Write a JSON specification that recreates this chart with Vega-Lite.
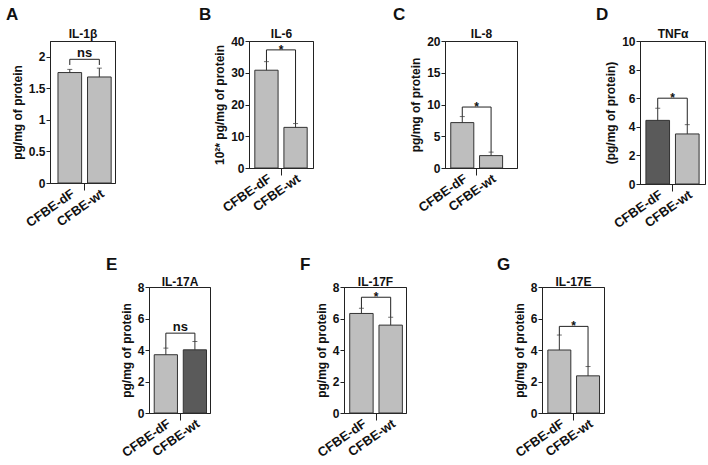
{
  "$schema": "https://vega.github.io/schema/vega-lite/v6.json",
  "background": "white",
  "padding": {"left": 5, "top": 5, "right": 2, "bottom": 2},
  "datasets": {
    "bars": [
      {"panel": "A", "group": "CFBE-dF", "mean": 1.75, "upper": 1.80},
      {"panel": "A", "group": "CFBE-wt", "mean": 1.68, "upper": 1.82},
      {"panel": "B", "group": "CFBE-dF", "mean": 30.8, "upper": 33.5},
      {"panel": "B", "group": "CFBE-wt", "mean": 12.8, "upper": 14.0},
      {"panel": "C", "group": "CFBE-dF", "mean": 7.15, "upper": 8.1},
      {"panel": "C", "group": "CFBE-wt", "mean": 1.95, "upper": 2.5},
      {"panel": "D", "group": "CFBE-dF", "mean": 4.45, "upper": 5.3},
      {"panel": "D", "group": "CFBE-wt", "mean": 3.5, "upper": 4.15},
      {"panel": "E", "group": "CFBE-dF", "mean": 3.7, "upper": 4.12},
      {"panel": "E", "group": "CFBE-wt", "mean": 4.01, "upper": 4.54},
      {"panel": "F", "group": "CFBE-dF", "mean": 6.32, "upper": 6.65},
      {"panel": "F", "group": "CFBE-wt", "mean": 5.58, "upper": 6.08},
      {"panel": "G", "group": "CFBE-dF", "mean": 4.0, "upper": 4.95},
      {"panel": "G", "group": "CFBE-wt", "mean": 2.36, "upper": 2.95}
    ],
    "brackets": [
      {"panel": "A", "group": "CFBE-dF", "step": 1, "y": 1.87},
      {"panel": "A", "group": "CFBE-dF", "step": 2, "y": 1.96},
      {"panel": "A", "group": "CFBE-wt", "step": 3, "y": 1.96},
      {"panel": "A", "group": "CFBE-wt", "step": 4, "y": 1.87},
      {"panel": "B", "group": "CFBE-dF", "step": 1, "y": 33.5},
      {"panel": "B", "group": "CFBE-dF", "step": 2, "y": 37.2},
      {"panel": "B", "group": "CFBE-wt", "step": 3, "y": 37.2},
      {"panel": "B", "group": "CFBE-wt", "step": 4, "y": 14.0},
      {"panel": "C", "group": "CFBE-dF", "step": 1, "y": 8.1},
      {"panel": "C", "group": "CFBE-dF", "step": 2, "y": 9.6},
      {"panel": "C", "group": "CFBE-wt", "step": 3, "y": 9.6},
      {"panel": "C", "group": "CFBE-wt", "step": 4, "y": 2.5},
      {"panel": "D", "group": "CFBE-dF", "step": 1, "y": 5.3},
      {"panel": "D", "group": "CFBE-dF", "step": 2, "y": 6.0},
      {"panel": "D", "group": "CFBE-wt", "step": 3, "y": 6.0},
      {"panel": "D", "group": "CFBE-wt", "step": 4, "y": 4.15},
      {"panel": "E", "group": "CFBE-dF", "step": 1, "y": 4.12},
      {"panel": "E", "group": "CFBE-dF", "step": 2, "y": 5.07},
      {"panel": "E", "group": "CFBE-wt", "step": 3, "y": 5.07},
      {"panel": "E", "group": "CFBE-wt", "step": 4, "y": 4.54},
      {"panel": "F", "group": "CFBE-dF", "step": 1, "y": 6.65},
      {"panel": "F", "group": "CFBE-dF", "step": 2, "y": 7.35},
      {"panel": "F", "group": "CFBE-wt", "step": 3, "y": 7.35},
      {"panel": "F", "group": "CFBE-wt", "step": 4, "y": 6.08},
      {"panel": "G", "group": "CFBE-dF", "step": 1, "y": 4.95},
      {"panel": "G", "group": "CFBE-dF", "step": 2, "y": 5.5},
      {"panel": "G", "group": "CFBE-wt", "step": 3, "y": 5.5},
      {"panel": "G", "group": "CFBE-wt", "step": 4, "y": 2.95}
    ],
    "marks": [
      {"panel": "A", "label": "ns", "y": 1.96},
      {"panel": "B", "label": "*", "y": 37.2},
      {"panel": "C", "label": "*", "y": 9.6},
      {"panel": "D", "label": "*", "y": 6.0},
      {"panel": "E", "label": "ns", "y": 5.07},
      {"panel": "F", "label": "*", "y": 7.35},
      {"panel": "G", "label": "*", "y": 5.5}
    ]
  },
  "columns": 7,
  "spacing": {"row": 103, "column": 24},
  "bounds": "flush",
  "concat": [
    {
      "width": 65, "height": 142,
      "title": {"text": "A", "dx": -44, "offset": 3},
      "resolve": {"axis": {"x": "independent"}},
      "layer": [
        {
          "data": {"name": "bars"}, "transform": [{"filter": "datum.panel === 'A'"}],
          "mark": {"type": "bar", "stroke": "#333", "strokeWidth": 1, "width": {"band": 0.8}},
          "encoding": {
            "x": {"field": "group", "type": "nominal", "scale": {"domain": ["CFBE-dF", "CFBE-wt"], "paddingInner": 0, "paddingOuter": 0.1, "align": 0.85}, "axis": {"orient": "bottom", "title": null, "ticks": false, "labelAngle": -35, "labelAlign": "right", "labelBaseline": "top", "labelPadding": 4, "labelFontSize": 13}},
            "y": {"field": "mean", "type": "quantitative", "scale": {"domain": [0, 2.25], "nice": false}, "axis": {"values": [0, 0.5, 1, 1.5, 2], "format": "~g", "title": "pg/mg of protein"}},
            "fill": {"value": "#bebebe"}
          }
        },
        {
          "data": {"name": "bars"}, "transform": [{"filter": "datum.panel === 'A'"}],
          "mark": {"type": "rule", "color": "#333", "strokeWidth": 1},
          "encoding": {
            "x": {"field": "group", "type": "nominal", "scale": {"domain": ["CFBE-dF", "CFBE-wt"]}, "axis": {"orient": "top", "title": "IL-1β", "labels": false, "ticks": false, "titlePadding": 4}},
            "y": {"field": "mean", "type": "quantitative", "scale": {"domain": [0, 2.25], "nice": false}, "axis": {"values": [0, 0.5, 1, 1.5, 2], "format": "~g", "title": "pg/mg of protein"}},
            "y2": {"field": "upper"}
          }
        },
        {
          "data": {"name": "bars"}, "transform": [{"filter": "datum.panel === 'A'"}],
          "mark": {"type": "tick", "orient": "horizontal", "size": 5, "thickness": 1, "color": "#333"},
          "encoding": {
            "x": {"field": "group", "type": "nominal", "scale": {"domain": ["CFBE-dF", "CFBE-wt"]}, "axis": {"orient": "bottom", "values": ["CFBE-wt"], "bandPosition": 0, "labels": false, "domain": false, "title": null, "ticks": true, "tickSize": 7}},
            "y": {"field": "upper", "type": "quantitative", "scale": {"domain": [0, 2.25], "nice": false}, "axis": {"values": [0, 0.5, 1, 1.5, 2], "format": "~g", "title": "pg/mg of protein"}}
          }
        },
        {
          "data": {"name": "brackets"}, "transform": [{"filter": "datum.panel === 'A'"}],
          "mark": {"type": "line", "color": "#222", "strokeWidth": 1},
          "encoding": {
            "x": {"field": "group", "type": "nominal", "scale": {"domain": ["CFBE-dF", "CFBE-wt"]}, "axis": null},
            "y": {"field": "y", "type": "quantitative", "scale": {"domain": [0, 2.25], "nice": false}, "axis": {"values": [0, 0.5, 1, 1.5, 2], "format": "~g", "title": "pg/mg of protein"}},
            "order": {"field": "step"}
          }
        },
        {
          "data": {"name": "marks"}, "transform": [{"filter": "datum.panel === 'A'"}],
          "mark": {"type": "text", "fontSize": 13, "fontWeight": "bold", "baseline": "alphabetic", "dy": -2, "color": "#111"},
          "encoding": {
            "x": {"datum": "CFBE-wt", "type": "nominal", "bandPosition": 0, "scale": {"domain": ["CFBE-dF", "CFBE-wt"]}, "axis": null},
            "y": {"field": "y", "type": "quantitative", "scale": {"domain": [0, 2.25], "nice": false}, "axis": {"values": [0, 0.5, 1, 1.5, 2], "format": "~g", "title": "pg/mg of protein"}},
            "text": {"field": "label"}
          }
        }
      ]
    },
    {"width": 76, "height": 1, "data": {"values": []}, "mark": "point", "view": {"stroke": null}},
    {
      "width": 64, "height": 127,
      "title": {"text": "B", "dx": -50, "offset": 3},
      "resolve": {"axis": {"x": "independent"}},
      "layer": [
        {
          "data": {"name": "bars"}, "transform": [{"filter": "datum.panel === 'B'"}],
          "mark": {"type": "bar", "stroke": "#333", "strokeWidth": 1, "width": {"band": 0.8}},
          "encoding": {
            "x": {"field": "group", "type": "nominal", "scale": {"domain": ["CFBE-dF", "CFBE-wt"], "paddingInner": 0, "paddingOuter": 0.1, "align": 0.5}, "axis": {"orient": "bottom", "title": null, "ticks": false, "labelAngle": -35, "labelAlign": "right", "labelBaseline": "top", "labelPadding": 4, "labelFontSize": 13}},
            "y": {"field": "mean", "type": "quantitative", "scale": {"domain": [0, 40], "nice": false}, "axis": {"values": [0, 10, 20, 30, 40], "title": "10²* pg/mg of protein"}},
            "fill": {"value": "#bebebe"}
          }
        },
        {
          "data": {"name": "bars"}, "transform": [{"filter": "datum.panel === 'B'"}],
          "mark": {"type": "rule", "color": "#333", "strokeWidth": 1},
          "encoding": {
            "x": {"field": "group", "type": "nominal", "scale": {"domain": ["CFBE-dF", "CFBE-wt"]}, "axis": {"orient": "top", "title": "IL-6", "labels": false, "ticks": false, "titlePadding": 4}},
            "y": {"field": "mean", "type": "quantitative", "scale": {"domain": [0, 40], "nice": false}, "axis": {"values": [0, 10, 20, 30, 40], "title": "10²* pg/mg of protein"}},
            "y2": {"field": "upper"}
          }
        },
        {
          "data": {"name": "bars"}, "transform": [{"filter": "datum.panel === 'B'"}],
          "mark": {"type": "tick", "orient": "horizontal", "size": 5, "thickness": 1, "color": "#333"},
          "encoding": {
            "x": {"field": "group", "type": "nominal", "scale": {"domain": ["CFBE-dF", "CFBE-wt"]}, "axis": {"orient": "bottom", "values": ["CFBE-wt"], "bandPosition": 0, "labels": false, "domain": false, "title": null, "ticks": true, "tickSize": 7}},
            "y": {"field": "upper", "type": "quantitative", "scale": {"domain": [0, 40], "nice": false}, "axis": {"values": [0, 10, 20, 30, 40], "title": "10²* pg/mg of protein"}}
          }
        },
        {
          "data": {"name": "brackets"}, "transform": [{"filter": "datum.panel === 'B'"}],
          "mark": {"type": "line", "color": "#222", "strokeWidth": 1},
          "encoding": {
            "x": {"field": "group", "type": "nominal", "scale": {"domain": ["CFBE-dF", "CFBE-wt"]}, "axis": null},
            "y": {"field": "y", "type": "quantitative", "scale": {"domain": [0, 40], "nice": false}, "axis": {"values": [0, 10, 20, 30, 40], "title": "10²* pg/mg of protein"}},
            "order": {"field": "step"}
          }
        },
        {
          "data": {"name": "marks"}, "transform": [{"filter": "datum.panel === 'B'"}],
          "mark": {"type": "text", "fontSize": 12, "fontWeight": "bold", "baseline": "alphabetic", "dy": 4, "color": "#111"},
          "encoding": {
            "x": {"datum": "CFBE-wt", "type": "nominal", "bandPosition": 0, "scale": {"domain": ["CFBE-dF", "CFBE-wt"]}, "axis": null},
            "y": {"field": "y", "type": "quantitative", "scale": {"domain": [0, 40], "nice": false}, "axis": {"values": [0, 10, 20, 30, 40], "title": "10²* pg/mg of protein"}},
            "text": {"field": "label"}
          }
        }
      ]
    },
    {"width": 77, "height": 1, "data": {"values": []}, "mark": "point", "view": {"stroke": null}},
    {
      "width": 72, "height": 127,
      "title": {"text": "C", "dx": -52, "offset": 3},
      "resolve": {"axis": {"x": "independent"}},
      "layer": [
        {
          "data": {"name": "bars"}, "transform": [{"filter": "datum.panel === 'C'"}],
          "mark": {"type": "bar", "stroke": "#333", "strokeWidth": 1, "width": {"band": 0.8}},
          "encoding": {
            "x": {"field": "group", "type": "nominal", "scale": {"domain": ["CFBE-dF", "CFBE-wt"], "paddingInner": 0, "paddingOuter": 0.25, "align": 0.2}, "axis": {"orient": "bottom", "title": null, "ticks": false, "labelAngle": -35, "labelAlign": "right", "labelBaseline": "top", "labelPadding": 4, "labelFontSize": 13}},
            "y": {"field": "mean", "type": "quantitative", "scale": {"domain": [0, 20], "nice": false}, "axis": {"values": [0, 5, 10, 15, 20], "title": "pg/mg of protein"}},
            "fill": {"value": "#bebebe"}
          }
        },
        {
          "data": {"name": "bars"}, "transform": [{"filter": "datum.panel === 'C'"}],
          "mark": {"type": "rule", "color": "#333", "strokeWidth": 1},
          "encoding": {
            "x": {"field": "group", "type": "nominal", "scale": {"domain": ["CFBE-dF", "CFBE-wt"]}, "axis": {"orient": "top", "title": "IL-8", "labels": false, "ticks": false, "titlePadding": 4}},
            "y": {"field": "mean", "type": "quantitative", "scale": {"domain": [0, 20], "nice": false}, "axis": {"values": [0, 5, 10, 15, 20], "title": "pg/mg of protein"}},
            "y2": {"field": "upper"}
          }
        },
        {
          "data": {"name": "bars"}, "transform": [{"filter": "datum.panel === 'C'"}],
          "mark": {"type": "tick", "orient": "horizontal", "size": 5, "thickness": 1, "color": "#333"},
          "encoding": {
            "x": {"field": "group", "type": "nominal", "scale": {"domain": ["CFBE-dF", "CFBE-wt"]}, "axis": {"orient": "bottom", "values": ["CFBE-wt"], "bandPosition": 0, "labels": false, "domain": false, "title": null, "ticks": true, "tickSize": 7}},
            "y": {"field": "upper", "type": "quantitative", "scale": {"domain": [0, 20], "nice": false}, "axis": {"values": [0, 5, 10, 15, 20], "title": "pg/mg of protein"}}
          }
        },
        {
          "data": {"name": "brackets"}, "transform": [{"filter": "datum.panel === 'C'"}],
          "mark": {"type": "line", "color": "#222", "strokeWidth": 1},
          "encoding": {
            "x": {"field": "group", "type": "nominal", "scale": {"domain": ["CFBE-dF", "CFBE-wt"]}, "axis": null},
            "y": {"field": "y", "type": "quantitative", "scale": {"domain": [0, 20], "nice": false}, "axis": {"values": [0, 5, 10, 15, 20], "title": "pg/mg of protein"}},
            "order": {"field": "step"}
          }
        },
        {
          "data": {"name": "marks"}, "transform": [{"filter": "datum.panel === 'C'"}],
          "mark": {"type": "text", "fontSize": 12, "fontWeight": "bold", "baseline": "alphabetic", "dy": 4, "color": "#111"},
          "encoding": {
            "x": {"datum": "CFBE-wt", "type": "nominal", "bandPosition": 0, "scale": {"domain": ["CFBE-dF", "CFBE-wt"]}, "axis": null},
            "y": {"field": "y", "type": "quantitative", "scale": {"domain": [0, 20], "nice": false}, "axis": {"values": [0, 5, 10, 15, 20], "title": "pg/mg of protein"}},
            "text": {"field": "label"}
          }
        }
      ]
    },
    {"width": 74, "height": 1, "data": {"values": []}, "mark": "point", "view": {"stroke": null}},
    {
      "width": 65, "height": 143,
      "title": {"text": "D", "dx": -44, "offset": 3},
      "resolve": {"axis": {"x": "independent"}},
      "layer": [
        {
          "data": {"name": "bars"}, "transform": [{"filter": "datum.panel === 'D'"}],
          "mark": {"type": "bar", "stroke": "#333", "strokeWidth": 1, "width": {"band": 0.8}},
          "encoding": {
            "x": {"field": "group", "type": "nominal", "scale": {"domain": ["CFBE-dF", "CFBE-wt"], "paddingInner": 0, "paddingOuter": 0.1, "align": 0.5}, "axis": {"orient": "bottom", "title": null, "ticks": false, "labelAngle": -35, "labelAlign": "right", "labelBaseline": "top", "labelPadding": 4, "labelFontSize": 13}},
            "y": {"field": "mean", "type": "quantitative", "scale": {"domain": [0, 10], "nice": false}, "axis": {"values": [0, 2, 4, 6, 8, 10], "title": "(pg/mg of protein)"}},
            "fill": {"condition": {"test": "datum.group === 'CFBE-dF'", "value": "#5a5a5a"}, "value": "#bebebe"}
          }
        },
        {
          "data": {"name": "bars"}, "transform": [{"filter": "datum.panel === 'D'"}],
          "mark": {"type": "rule", "color": "#333", "strokeWidth": 1},
          "encoding": {
            "x": {"field": "group", "type": "nominal", "scale": {"domain": ["CFBE-dF", "CFBE-wt"]}, "axis": {"orient": "top", "title": "TNFα", "labels": false, "ticks": false, "titlePadding": 4}},
            "y": {"field": "mean", "type": "quantitative", "scale": {"domain": [0, 10], "nice": false}, "axis": {"values": [0, 2, 4, 6, 8, 10], "title": "(pg/mg of protein)"}},
            "y2": {"field": "upper"}
          }
        },
        {
          "data": {"name": "bars"}, "transform": [{"filter": "datum.panel === 'D'"}],
          "mark": {"type": "tick", "orient": "horizontal", "size": 5, "thickness": 1, "color": "#333"},
          "encoding": {
            "x": {"field": "group", "type": "nominal", "scale": {"domain": ["CFBE-dF", "CFBE-wt"]}, "axis": {"orient": "bottom", "values": ["CFBE-wt"], "bandPosition": 0, "labels": false, "domain": false, "title": null, "ticks": true, "tickSize": 7}},
            "y": {"field": "upper", "type": "quantitative", "scale": {"domain": [0, 10], "nice": false}, "axis": {"values": [0, 2, 4, 6, 8, 10], "title": "(pg/mg of protein)"}}
          }
        },
        {
          "data": {"name": "brackets"}, "transform": [{"filter": "datum.panel === 'D'"}],
          "mark": {"type": "line", "color": "#222", "strokeWidth": 1},
          "encoding": {
            "x": {"field": "group", "type": "nominal", "scale": {"domain": ["CFBE-dF", "CFBE-wt"]}, "axis": null},
            "y": {"field": "y", "type": "quantitative", "scale": {"domain": [0, 10], "nice": false}, "axis": {"values": [0, 2, 4, 6, 8, 10], "title": "(pg/mg of protein)"}},
            "order": {"field": "step"}
          }
        },
        {
          "data": {"name": "marks"}, "transform": [{"filter": "datum.panel === 'D'"}],
          "mark": {"type": "text", "fontSize": 12, "fontWeight": "bold", "baseline": "alphabetic", "dy": 4, "color": "#111"},
          "encoding": {
            "x": {"datum": "CFBE-wt", "type": "nominal", "bandPosition": 0, "scale": {"domain": ["CFBE-dF", "CFBE-wt"]}, "axis": null},
            "y": {"field": "y", "type": "quantitative", "scale": {"domain": [0, 10], "nice": false}, "axis": {"values": [0, 2, 4, 6, 8, 10], "title": "(pg/mg of protein)"}},
            "text": {"field": "label"}
          }
        }
      ]
    },
    {"width": 75, "height": 1, "data": {"values": []}, "mark": "point", "view": {"stroke": null}},
    {
      "width": 61, "height": 126,
      "title": {"text": "E", "dx": -43, "offset": 1},
      "resolve": {"axis": {"x": "independent"}},
      "layer": [
        {
          "data": {"name": "bars"}, "transform": [{"filter": "datum.panel === 'E'"}],
          "mark": {"type": "bar", "stroke": "#333", "strokeWidth": 1, "width": {"band": 0.8}},
          "encoding": {
            "x": {"field": "group", "type": "nominal", "scale": {"domain": ["CFBE-dF", "CFBE-wt"], "paddingInner": 0, "paddingOuter": 0.05, "align": 0.8}, "axis": {"orient": "bottom", "title": null, "ticks": false, "labelAngle": -35, "labelAlign": "right", "labelBaseline": "top", "labelPadding": 4, "labelFontSize": 13}},
            "y": {"field": "mean", "type": "quantitative", "scale": {"domain": [0, 8], "nice": false}, "axis": {"values": [0, 2, 4, 6, 8], "title": "pg/mg of protein"}},
            "fill": {"condition": {"test": "datum.group === 'CFBE-wt'", "value": "#5a5a5a"}, "value": "#bebebe"}
          }
        },
        {
          "data": {"name": "bars"}, "transform": [{"filter": "datum.panel === 'E'"}],
          "mark": {"type": "rule", "color": "#333", "strokeWidth": 1},
          "encoding": {
            "x": {"field": "group", "type": "nominal", "scale": {"domain": ["CFBE-dF", "CFBE-wt"]}, "axis": {"orient": "top", "title": "IL-17A", "labels": false, "ticks": false, "titlePadding": 2}},
            "y": {"field": "mean", "type": "quantitative", "scale": {"domain": [0, 8], "nice": false}, "axis": {"values": [0, 2, 4, 6, 8], "title": "pg/mg of protein"}},
            "y2": {"field": "upper"}
          }
        },
        {
          "data": {"name": "bars"}, "transform": [{"filter": "datum.panel === 'E'"}],
          "mark": {"type": "tick", "orient": "horizontal", "size": 5, "thickness": 1, "color": "#333"},
          "encoding": {
            "x": {"field": "group", "type": "nominal", "scale": {"domain": ["CFBE-dF", "CFBE-wt"]}, "axis": {"orient": "bottom", "values": ["CFBE-wt"], "bandPosition": 0, "labels": false, "domain": false, "title": null, "ticks": true, "tickSize": 7}},
            "y": {"field": "upper", "type": "quantitative", "scale": {"domain": [0, 8], "nice": false}, "axis": {"values": [0, 2, 4, 6, 8], "title": "pg/mg of protein"}}
          }
        },
        {
          "data": {"name": "brackets"}, "transform": [{"filter": "datum.panel === 'E'"}],
          "mark": {"type": "line", "color": "#222", "strokeWidth": 1},
          "encoding": {
            "x": {"field": "group", "type": "nominal", "scale": {"domain": ["CFBE-dF", "CFBE-wt"]}, "axis": null},
            "y": {"field": "y", "type": "quantitative", "scale": {"domain": [0, 8], "nice": false}, "axis": {"values": [0, 2, 4, 6, 8], "title": "pg/mg of protein"}},
            "order": {"field": "step"}
          }
        },
        {
          "data": {"name": "marks"}, "transform": [{"filter": "datum.panel === 'E'"}],
          "mark": {"type": "text", "fontSize": 13, "fontWeight": "bold", "baseline": "alphabetic", "dy": -2, "color": "#111"},
          "encoding": {
            "x": {"datum": "CFBE-wt", "type": "nominal", "bandPosition": 0, "scale": {"domain": ["CFBE-dF", "CFBE-wt"]}, "axis": null},
            "y": {"field": "y", "type": "quantitative", "scale": {"domain": [0, 8], "nice": false}, "axis": {"values": [0, 2, 4, 6, 8], "title": "pg/mg of protein"}},
            "text": {"field": "label"}
          }
        }
      ]
    },
    {"width": 71, "height": 1, "data": {"values": []}, "mark": "point", "view": {"stroke": null}},
    {
      "width": 62, "height": 126,
      "title": {"text": "F", "dx": -44, "offset": 1},
      "resolve": {"axis": {"x": "independent"}},
      "layer": [
        {
          "data": {"name": "bars"}, "transform": [{"filter": "datum.panel === 'F'"}],
          "mark": {"type": "bar", "stroke": "#333", "strokeWidth": 1, "width": {"band": 0.8}},
          "encoding": {
            "x": {"field": "group", "type": "nominal", "scale": {"domain": ["CFBE-dF", "CFBE-wt"], "paddingInner": 0, "paddingOuter": 0.06, "align": 0.8}, "axis": {"orient": "bottom", "title": null, "ticks": false, "labelAngle": -35, "labelAlign": "right", "labelBaseline": "top", "labelPadding": 4, "labelFontSize": 13}},
            "y": {"field": "mean", "type": "quantitative", "scale": {"domain": [0, 8], "nice": false}, "axis": {"values": [0, 2, 4, 6, 8], "title": "pg/mg of protein"}},
            "fill": {"value": "#bebebe"}
          }
        },
        {
          "data": {"name": "bars"}, "transform": [{"filter": "datum.panel === 'F'"}],
          "mark": {"type": "rule", "color": "#333", "strokeWidth": 1},
          "encoding": {
            "x": {"field": "group", "type": "nominal", "scale": {"domain": ["CFBE-dF", "CFBE-wt"]}, "axis": {"orient": "top", "title": "IL-17F", "labels": false, "ticks": false, "titlePadding": 2}},
            "y": {"field": "mean", "type": "quantitative", "scale": {"domain": [0, 8], "nice": false}, "axis": {"values": [0, 2, 4, 6, 8], "title": "pg/mg of protein"}},
            "y2": {"field": "upper"}
          }
        },
        {
          "data": {"name": "bars"}, "transform": [{"filter": "datum.panel === 'F'"}],
          "mark": {"type": "tick", "orient": "horizontal", "size": 5, "thickness": 1, "color": "#333"},
          "encoding": {
            "x": {"field": "group", "type": "nominal", "scale": {"domain": ["CFBE-dF", "CFBE-wt"]}, "axis": {"orient": "bottom", "values": ["CFBE-wt"], "bandPosition": 0, "labels": false, "domain": false, "title": null, "ticks": true, "tickSize": 7}},
            "y": {"field": "upper", "type": "quantitative", "scale": {"domain": [0, 8], "nice": false}, "axis": {"values": [0, 2, 4, 6, 8], "title": "pg/mg of protein"}}
          }
        },
        {
          "data": {"name": "brackets"}, "transform": [{"filter": "datum.panel === 'F'"}],
          "mark": {"type": "line", "color": "#222", "strokeWidth": 1},
          "encoding": {
            "x": {"field": "group", "type": "nominal", "scale": {"domain": ["CFBE-dF", "CFBE-wt"]}, "axis": null},
            "y": {"field": "y", "type": "quantitative", "scale": {"domain": [0, 8], "nice": false}, "axis": {"values": [0, 2, 4, 6, 8], "title": "pg/mg of protein"}},
            "order": {"field": "step"}
          }
        },
        {
          "data": {"name": "marks"}, "transform": [{"filter": "datum.panel === 'F'"}],
          "mark": {"type": "text", "fontSize": 12, "fontWeight": "bold", "baseline": "alphabetic", "dy": 4, "color": "#111"},
          "encoding": {
            "x": {"datum": "CFBE-wt", "type": "nominal", "bandPosition": 0, "scale": {"domain": ["CFBE-dF", "CFBE-wt"]}, "axis": null},
            "y": {"field": "y", "type": "quantitative", "scale": {"domain": [0, 8], "nice": false}, "axis": {"values": [0, 2, 4, 6, 8], "title": "pg/mg of protein"}},
            "text": {"field": "label"}
          }
        }
      ]
    },
    {"width": 73, "height": 1, "data": {"values": []}, "mark": "point", "view": {"stroke": null}},
    {
      "width": 62, "height": 126,
      "title": {"text": "G", "dx": -45, "offset": 1},
      "resolve": {"axis": {"x": "independent"}},
      "layer": [
        {
          "data": {"name": "bars"}, "transform": [{"filter": "datum.panel === 'G'"}],
          "mark": {"type": "bar", "stroke": "#333", "strokeWidth": 1, "width": {"band": 0.8}},
          "encoding": {
            "x": {"field": "group", "type": "nominal", "scale": {"domain": ["CFBE-dF", "CFBE-wt"], "paddingInner": 0, "paddingOuter": 0.08, "align": 0.65}, "axis": {"orient": "bottom", "title": null, "ticks": false, "labelAngle": -35, "labelAlign": "right", "labelBaseline": "top", "labelPadding": 4, "labelFontSize": 13}},
            "y": {"field": "mean", "type": "quantitative", "scale": {"domain": [0, 8], "nice": false}, "axis": {"values": [0, 2, 4, 6, 8], "title": "pg/mg of protein"}},
            "fill": {"value": "#bebebe"}
          }
        },
        {
          "data": {"name": "bars"}, "transform": [{"filter": "datum.panel === 'G'"}],
          "mark": {"type": "rule", "color": "#333", "strokeWidth": 1},
          "encoding": {
            "x": {"field": "group", "type": "nominal", "scale": {"domain": ["CFBE-dF", "CFBE-wt"]}, "axis": {"orient": "top", "title": "IL-17E", "labels": false, "ticks": false, "titlePadding": 2}},
            "y": {"field": "mean", "type": "quantitative", "scale": {"domain": [0, 8], "nice": false}, "axis": {"values": [0, 2, 4, 6, 8], "title": "pg/mg of protein"}},
            "y2": {"field": "upper"}
          }
        },
        {
          "data": {"name": "bars"}, "transform": [{"filter": "datum.panel === 'G'"}],
          "mark": {"type": "tick", "orient": "horizontal", "size": 5, "thickness": 1, "color": "#333"},
          "encoding": {
            "x": {"field": "group", "type": "nominal", "scale": {"domain": ["CFBE-dF", "CFBE-wt"]}, "axis": {"orient": "bottom", "values": ["CFBE-wt"], "bandPosition": 0, "labels": false, "domain": false, "title": null, "ticks": true, "tickSize": 7}},
            "y": {"field": "upper", "type": "quantitative", "scale": {"domain": [0, 8], "nice": false}, "axis": {"values": [0, 2, 4, 6, 8], "title": "pg/mg of protein"}}
          }
        },
        {
          "data": {"name": "brackets"}, "transform": [{"filter": "datum.panel === 'G'"}],
          "mark": {"type": "line", "color": "#222", "strokeWidth": 1},
          "encoding": {
            "x": {"field": "group", "type": "nominal", "scale": {"domain": ["CFBE-dF", "CFBE-wt"]}, "axis": null},
            "y": {"field": "y", "type": "quantitative", "scale": {"domain": [0, 8], "nice": false}, "axis": {"values": [0, 2, 4, 6, 8], "title": "pg/mg of protein"}},
            "order": {"field": "step"}
          }
        },
        {
          "data": {"name": "marks"}, "transform": [{"filter": "datum.panel === 'G'"}],
          "mark": {"type": "text", "fontSize": 12, "fontWeight": "bold", "baseline": "alphabetic", "dy": 4, "color": "#111"},
          "encoding": {
            "x": {"datum": "CFBE-wt", "type": "nominal", "bandPosition": 0, "scale": {"domain": ["CFBE-dF", "CFBE-wt"]}, "axis": null},
            "y": {"field": "y", "type": "quantitative", "scale": {"domain": [0, 8], "nice": false}, "axis": {"values": [0, 2, 4, 6, 8], "title": "pg/mg of protein"}},
            "text": {"field": "label"}
          }
        }
      ]
    }
  ],
  "config": {
    "font": "Liberation Sans",
    "view": {"stroke": "#222", "strokeWidth": 1},
    "axis": {"grid": false, "domainColor": "#222", "tickColor": "#222", "labelColor": "#111", "titleColor": "#111", "labelFontWeight": "bold", "titleFontWeight": "bold", "labelFontSize": 12, "titleFontSize": 12},
    "axisY": {"tickSize": 4, "labelPadding": 1, "titlePadding": 4, "labelOverlap": false},
    "axisTop": {"titleBaseline": "alphabetic"},
    "title": {"fontSize": 17, "fontWeight": "bold", "color": "#111", "anchor": "start", "frame": "group", "baseline": "alphabetic"}
  }
}
